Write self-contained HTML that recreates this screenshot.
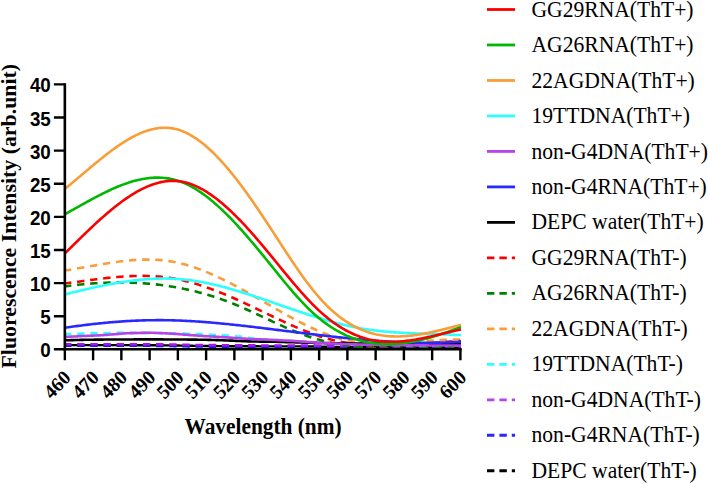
<!DOCTYPE html><html><head><meta charset="utf-8"><style>html,body{margin:0;padding:0;background:#fff;overflow:hidden;}svg{display:block;}.t{font-family:"Liberation Serif",serif;}.s{font-family:"Liberation Sans",sans-serif;}</style></head><body>
<svg width="708" height="484" viewBox="0 0 708 484">
<rect width="708" height="484" fill="#fff"/>
<g fill="none" stroke-width="2.6" stroke-linejoin="round">
<path d="M65.00,345.10 L66.99,345.10 L68.98,345.10 L70.97,345.10 L72.96,345.10 L74.95,345.10 L76.94,345.10 L78.93,345.10 L80.92,345.10 L82.91,345.10 L84.90,345.11 L86.89,345.11 L88.88,345.11 L90.87,345.11 L92.86,345.11 L94.85,345.11 L96.84,345.11 L98.83,345.12 L100.82,345.12 L102.81,345.12 L104.80,345.12 L106.79,345.12 L108.78,345.13 L110.77,345.13 L112.76,345.13 L114.75,345.13 L116.74,345.14 L118.73,345.14 L120.72,345.14 L122.71,345.15 L124.70,345.15 L126.69,345.15 L128.68,345.16 L130.67,345.16 L132.66,345.16 L134.65,345.17 L136.64,345.17 L138.63,345.18 L140.62,345.18 L142.61,345.18 L144.60,345.19 L146.59,345.19 L148.58,345.20 L150.57,345.20 L152.56,345.21 L154.55,345.22 L156.54,345.24 L158.53,345.26 L160.52,345.28 L162.51,345.30 L164.50,345.33 L166.49,345.36 L168.48,345.39 L170.47,345.42 L172.46,345.46 L174.45,345.49 L176.44,345.53 L178.43,345.56 L180.42,345.60 L182.41,345.64 L184.40,345.67 L186.39,345.71 L188.38,345.74 L190.37,345.77 L192.36,345.80 L194.35,345.83 L196.34,345.86 L198.33,345.88 L200.32,345.90 L202.31,345.92 L204.30,345.94 L206.29,345.96 L208.28,345.98 L210.27,346.00 L212.26,346.02 L214.25,346.04 L216.24,346.06 L218.23,346.08 L220.22,346.10 L222.21,346.12 L224.20,346.14 L226.19,346.15 L228.18,346.17 L230.17,346.19 L232.16,346.20 L234.15,346.22 L236.14,346.23 L238.13,346.24 L240.12,346.25 L242.11,346.27 L244.10,346.28 L246.09,346.29 L248.08,346.29 L250.07,346.30 L252.06,346.31 L254.05,346.31 L256.04,346.32 L258.03,346.32 L260.02,346.33 L262.01,346.33 L263.99,346.33 L265.98,346.34 L267.97,346.34 L269.96,346.34 L271.95,346.34 L273.94,346.35 L275.93,346.35 L277.92,346.35 L279.91,346.35 L281.90,346.36 L283.89,346.36 L285.88,346.36 L287.87,346.37 L289.86,346.37 L291.85,346.38 L293.84,346.38 L295.83,346.39 L297.82,346.39 L299.81,346.40 L301.80,346.41 L303.79,346.42 L305.78,346.44 L307.77,346.46 L309.76,346.49 L311.75,346.52 L313.74,346.55 L315.73,346.58 L317.72,346.61 L319.71,346.65 L321.70,346.68 L323.69,346.71 L325.68,346.75 L327.67,346.78 L329.66,346.81 L331.65,346.83 L333.64,346.86 L335.63,346.87 L337.62,346.89 L339.61,346.90 L341.60,346.90 L343.59,346.91 L345.58,346.92 L347.57,346.92 L349.56,346.93 L351.55,346.93 L353.54,346.94 L355.53,346.94 L357.52,346.95 L359.51,346.95 L361.50,346.96 L363.49,346.96 L365.48,346.96 L367.47,346.97 L369.46,346.97 L371.45,346.98 L373.44,346.98 L375.43,346.98 L377.42,346.98 L379.41,346.99 L381.40,346.99 L383.39,346.99 L385.38,346.99 L387.37,347.00 L389.36,347.00 L391.35,347.00 L393.34,347.00 L395.33,347.00 L397.32,347.00 L399.31,347.00 L401.30,347.00 L403.29,347.00 L405.28,347.00 L407.27,347.00 L409.26,347.00 L411.25,347.00 L413.24,347.00 L415.23,347.00 L417.22,347.00 L419.21,347.00 L421.20,347.00 L423.19,347.00 L425.18,347.00 L427.17,347.00 L429.16,347.00 L431.15,347.00 L433.14,347.00 L435.13,347.00 L437.12,347.00 L439.11,347.00 L441.10,347.00 L443.09,347.00 L445.08,347.00 L447.07,347.00 L449.06,347.00 L451.05,347.00 L453.04,347.00 L455.03,347.00 L457.02,347.00 L459.01,347.00 L461.00,347.00" stroke="#000" stroke-width="2.4"/>
<path d="M65.00,345.70 L66.99,345.70 L68.98,345.70 L70.97,345.70 L72.96,345.70 L74.95,345.70 L76.94,345.70 L78.93,345.70 L80.92,345.70 L82.91,345.70 L84.90,345.71 L86.89,345.71 L88.88,345.71 L90.87,345.71 L92.86,345.71 L94.85,345.71 L96.84,345.71 L98.83,345.72 L100.82,345.72 L102.81,345.72 L104.80,345.72 L106.79,345.72 L108.78,345.73 L110.77,345.73 L112.76,345.73 L114.75,345.73 L116.74,345.74 L118.73,345.74 L120.72,345.74 L122.71,345.75 L124.70,345.75 L126.69,345.75 L128.68,345.76 L130.67,345.76 L132.66,345.76 L134.65,345.77 L136.64,345.77 L138.63,345.78 L140.62,345.78 L142.61,345.78 L144.60,345.79 L146.59,345.79 L148.58,345.80 L150.57,345.80 L152.56,345.81 L154.55,345.82 L156.54,345.84 L158.53,345.86 L160.52,345.88 L162.51,345.90 L164.50,345.93 L166.49,345.96 L168.48,345.99 L170.47,346.02 L172.46,346.06 L174.45,346.09 L176.44,346.13 L178.43,346.16 L180.42,346.20 L182.41,346.24 L184.40,346.27 L186.39,346.31 L188.38,346.34 L190.37,346.37 L192.36,346.40 L194.35,346.43 L196.34,346.46 L198.33,346.48 L200.32,346.50 L202.31,346.52 L204.30,346.54 L206.29,346.56 L208.28,346.58 L210.27,346.60 L212.26,346.62 L214.25,346.64 L216.24,346.66 L218.23,346.68 L220.22,346.70 L222.21,346.72 L224.20,346.74 L226.19,346.75 L228.18,346.77 L230.17,346.79 L232.16,346.80 L234.15,346.82 L236.14,346.83 L238.13,346.84 L240.12,346.85 L242.11,346.87 L244.10,346.88 L246.09,346.89 L248.08,346.89 L250.07,346.90 L252.06,346.91 L254.05,346.91 L256.04,346.92 L258.03,346.92 L260.02,346.93 L262.01,346.93 L263.99,346.93 L265.98,346.94 L267.97,346.94 L269.96,346.94 L271.95,346.94 L273.94,346.95 L275.93,346.95 L277.92,346.95 L279.91,346.95 L281.90,346.96 L283.89,346.96 L285.88,346.96 L287.87,346.97 L289.86,346.97 L291.85,346.98 L293.84,346.98 L295.83,346.99 L297.82,346.99 L299.81,347.00 L301.80,347.01 L303.79,347.02 L305.78,347.04 L307.77,347.06 L309.76,347.09 L311.75,347.12 L313.74,347.15 L315.73,347.18 L317.72,347.21 L319.71,347.25 L321.70,347.28 L323.69,347.31 L325.68,347.35 L327.67,347.38 L329.66,347.41 L331.65,347.43 L333.64,347.46 L335.63,347.47 L337.62,347.49 L339.61,347.50 L341.60,347.50 L343.59,347.51 L345.58,347.52 L347.57,347.52 L349.56,347.53 L351.55,347.53 L353.54,347.54 L355.53,347.54 L357.52,347.55 L359.51,347.55 L361.50,347.56 L363.49,347.56 L365.48,347.56 L367.47,347.57 L369.46,347.57 L371.45,347.58 L373.44,347.58 L375.43,347.58 L377.42,347.58 L379.41,347.59 L381.40,347.59 L383.39,347.59 L385.38,347.59 L387.37,347.60 L389.36,347.60 L391.35,347.60 L393.34,347.60 L395.33,347.60 L397.32,347.60 L399.31,347.60 L401.30,347.60 L403.29,347.60 L405.28,347.60 L407.27,347.60 L409.26,347.60 L411.25,347.60 L413.24,347.60 L415.23,347.60 L417.22,347.60 L419.21,347.60 L421.20,347.60 L423.19,347.60 L425.18,347.60 L427.17,347.60 L429.16,347.60 L431.15,347.60 L433.14,347.60 L435.13,347.60 L437.12,347.60 L439.11,347.60 L441.10,347.60 L443.09,347.60 L445.08,347.60 L447.07,347.60 L449.06,347.60 L451.05,347.60 L453.04,347.60 L455.03,347.60 L457.02,347.60 L459.01,347.60 L461.00,347.60" stroke="#1818e8" stroke-dasharray="7.4 5.75" stroke-dashoffset="1"/>
<path d="M65.00,344.20 L66.99,344.20 L68.98,344.20 L70.97,344.20 L72.96,344.20 L74.95,344.20 L76.94,344.20 L78.93,344.20 L80.92,344.20 L82.91,344.20 L84.90,344.21 L86.89,344.21 L88.88,344.21 L90.87,344.21 L92.86,344.21 L94.85,344.21 L96.84,344.21 L98.83,344.22 L100.82,344.22 L102.81,344.22 L104.80,344.22 L106.79,344.22 L108.78,344.23 L110.77,344.23 L112.76,344.23 L114.75,344.23 L116.74,344.24 L118.73,344.24 L120.72,344.24 L122.71,344.25 L124.70,344.25 L126.69,344.25 L128.68,344.26 L130.67,344.26 L132.66,344.26 L134.65,344.27 L136.64,344.27 L138.63,344.28 L140.62,344.28 L142.61,344.28 L144.60,344.29 L146.59,344.29 L148.58,344.30 L150.57,344.30 L152.56,344.31 L154.55,344.32 L156.54,344.34 L158.53,344.36 L160.52,344.38 L162.51,344.40 L164.50,344.43 L166.49,344.46 L168.48,344.49 L170.47,344.52 L172.46,344.56 L174.45,344.59 L176.44,344.63 L178.43,344.66 L180.42,344.70 L182.41,344.74 L184.40,344.77 L186.39,344.81 L188.38,344.84 L190.37,344.87 L192.36,344.90 L194.35,344.93 L196.34,344.96 L198.33,344.98 L200.32,345.00 L202.31,345.02 L204.30,345.04 L206.29,345.06 L208.28,345.08 L210.27,345.10 L212.26,345.12 L214.25,345.14 L216.24,345.16 L218.23,345.18 L220.22,345.20 L222.21,345.22 L224.20,345.24 L226.19,345.25 L228.18,345.27 L230.17,345.29 L232.16,345.30 L234.15,345.32 L236.14,345.33 L238.13,345.34 L240.12,345.35 L242.11,345.37 L244.10,345.38 L246.09,345.39 L248.08,345.39 L250.07,345.40 L252.06,345.41 L254.05,345.41 L256.04,345.42 L258.03,345.42 L260.02,345.43 L262.01,345.43 L263.99,345.43 L265.98,345.44 L267.97,345.44 L269.96,345.44 L271.95,345.44 L273.94,345.45 L275.93,345.45 L277.92,345.45 L279.91,345.45 L281.90,345.46 L283.89,345.46 L285.88,345.46 L287.87,345.47 L289.86,345.47 L291.85,345.48 L293.84,345.48 L295.83,345.49 L297.82,345.49 L299.81,345.50 L301.80,345.51 L303.79,345.52 L305.78,345.54 L307.77,345.56 L309.76,345.59 L311.75,345.62 L313.74,345.65 L315.73,345.68 L317.72,345.71 L319.71,345.75 L321.70,345.78 L323.69,345.81 L325.68,345.85 L327.67,345.88 L329.66,345.91 L331.65,345.93 L333.64,345.96 L335.63,345.97 L337.62,345.99 L339.61,346.00 L341.60,346.00 L343.59,346.01 L345.58,346.02 L347.57,346.02 L349.56,346.03 L351.55,346.03 L353.54,346.04 L355.53,346.04 L357.52,346.05 L359.51,346.05 L361.50,346.06 L363.49,346.06 L365.48,346.06 L367.47,346.07 L369.46,346.07 L371.45,346.08 L373.44,346.08 L375.43,346.08 L377.42,346.08 L379.41,346.09 L381.40,346.09 L383.39,346.09 L385.38,346.09 L387.37,346.10 L389.36,346.10 L391.35,346.10 L393.34,346.10 L395.33,346.10 L397.32,346.10 L399.31,346.10 L401.30,346.10 L403.29,346.10 L405.28,346.10 L407.27,346.10 L409.26,346.10 L411.25,346.10 L413.24,346.10 L415.23,346.10 L417.22,346.10 L419.21,346.10 L421.20,346.10 L423.19,346.10 L425.18,346.10 L427.17,346.10 L429.16,346.10 L431.15,346.10 L433.14,346.10 L435.13,346.10 L437.12,346.10 L439.11,346.10 L441.10,346.10 L443.09,346.10 L445.08,346.10 L447.07,346.10 L449.06,346.10 L451.05,346.10 L453.04,346.10 L455.03,346.10 L457.02,346.10 L459.01,346.10 L461.00,346.10" stroke="#a818e0" stroke-dasharray="7.4 5.75" stroke-dashoffset="1"/>
<path d="M65.00,334.10 L66.99,334.04 L68.98,333.98 L70.97,333.93 L72.96,333.87 L74.95,333.81 L76.94,333.76 L78.93,333.71 L80.92,333.65 L82.91,333.60 L84.90,333.55 L86.89,333.50 L88.88,333.46 L90.87,333.41 L92.86,333.36 L94.85,333.32 L96.84,333.27 L98.83,333.23 L100.82,333.18 L102.81,333.14 L104.80,333.09 L106.79,333.05 L108.78,333.02 L110.77,332.99 L112.76,332.96 L114.75,332.94 L116.74,332.92 L118.73,332.90 L120.72,332.90 L122.71,332.90 L124.70,332.90 L126.69,332.90 L128.68,332.90 L130.67,332.90 L132.66,332.90 L134.65,332.90 L136.64,332.90 L138.63,332.90 L140.62,332.90 L142.61,332.90 L144.60,332.90 L146.59,332.90 L148.58,332.90 L150.57,332.90 L152.56,332.91 L154.55,332.93 L156.54,332.97 L158.53,333.01 L160.52,333.05 L162.51,333.11 L164.50,333.16 L166.49,333.21 L168.48,333.26 L170.47,333.31 L172.46,333.36 L174.45,333.41 L176.44,333.45 L178.43,333.50 L180.42,333.55 L182.41,333.61 L184.40,333.66 L186.39,333.71 L188.38,333.77 L190.37,333.83 L192.36,333.89 L194.35,333.96 L196.34,334.03 L198.33,334.10 L200.32,334.17 L202.31,334.26 L204.30,334.35 L206.29,334.46 L208.28,334.57 L210.27,334.68 L212.26,334.79 L214.25,334.88 L216.24,334.97 L218.23,335.05 L220.22,335.13 L222.21,335.22 L224.20,335.32 L226.19,335.44 L228.18,335.57 L230.17,335.72 L232.16,335.88 L234.15,336.06 L236.14,336.25 L238.13,336.44 L240.12,336.65 L242.11,336.89 L244.10,337.16 L246.09,337.44 L248.08,337.73 L250.07,338.02 L252.06,338.31 L254.05,338.58 L256.04,338.82 L258.03,339.03 L260.02,339.20 L262.01,339.34 L263.99,339.46 L265.98,339.56 L267.97,339.66 L269.96,339.75 L271.95,339.85 L273.94,339.94 L275.93,340.05 L277.92,340.16 L279.91,340.26 L281.90,340.37 L283.89,340.48 L285.88,340.58 L287.87,340.69 L289.86,340.80 L291.85,340.91 L293.84,341.02 L295.83,341.14 L297.82,341.26 L299.81,341.39 L301.80,341.52 L303.79,341.67 L305.78,341.83 L307.77,341.99 L309.76,342.15 L311.75,342.31 L313.74,342.47 L315.73,342.62 L317.72,342.76 L319.71,342.88 L321.70,342.99 L323.69,343.10 L325.68,343.20 L327.67,343.29 L329.66,343.38 L331.65,343.47 L333.64,343.56 L335.63,343.64 L337.62,343.72 L339.61,343.80 L341.60,343.87 L343.59,343.95 L345.58,344.02 L347.57,344.10 L349.56,344.17 L351.55,344.24 L353.54,344.31 L355.53,344.38 L357.52,344.43 L359.51,344.49 L361.50,344.54 L363.49,344.58 L365.48,344.63 L367.47,344.67 L369.46,344.71 L371.45,344.76 L373.44,344.80 L375.43,344.83 L377.42,344.87 L379.41,344.91 L381.40,344.94 L383.39,344.98 L385.38,345.01 L387.37,345.04 L389.36,345.07 L391.35,345.10 L393.34,345.12 L395.33,345.15 L397.32,345.17 L399.31,345.19 L401.30,345.21 L403.29,345.23 L405.28,345.25 L407.27,345.27 L409.26,345.29 L411.25,345.31 L413.24,345.32 L415.23,345.34 L417.22,345.35 L419.21,345.37 L421.20,345.38 L423.19,345.40 L425.18,345.41 L427.17,345.42 L429.16,345.44 L431.15,345.45 L433.14,345.46 L435.13,345.47 L437.12,345.48 L439.11,345.49 L441.10,345.51 L443.09,345.52 L445.08,345.53 L447.07,345.54 L449.06,345.55 L451.05,345.56 L453.04,345.57 L455.03,345.58 L457.02,345.58 L459.01,345.59 L461.00,345.60" stroke="#2bffff" stroke-dasharray="7.4 5.75" stroke-dashoffset="1"/>
<path d="M65.00,270.43 L66.66,270.18 L68.31,269.93 L69.97,269.67 L71.63,269.40 L73.28,269.14 L74.94,268.86 L76.60,268.58 L78.26,268.30 L79.91,268.02 L81.57,267.73 L83.23,267.45 L84.88,267.16 L86.54,266.87 L88.20,266.57 L89.85,266.28 L91.51,265.99 L93.17,265.70 L94.82,265.41 L96.48,265.13 L98.14,264.84 L99.79,264.56 L101.45,264.28 L103.11,264.00 L104.77,263.73 L106.42,263.46 L108.08,263.20 L109.74,262.94 L111.39,262.69 L113.05,262.45 L114.71,262.21 L116.36,261.98 L118.02,261.76 L119.68,261.54 L121.33,261.33 L122.99,261.14 L124.65,260.95 L126.31,260.77 L127.96,260.60 L129.62,260.45 L131.28,260.30 L132.93,260.17 L134.59,260.05 L136.25,259.94 L137.90,259.84 L139.56,259.76 L141.22,259.70 L142.87,259.64 L144.53,259.61 L146.19,259.58 L147.85,259.58 L149.50,259.59 L151.16,259.61 L152.82,259.66 L154.47,259.72 L156.13,259.80 L157.79,259.90 L159.44,260.02 L161.10,260.16 L162.76,260.31 L164.41,260.49 L166.07,260.69 L167.73,260.91 L169.38,261.16 L171.04,261.42 L172.70,261.71 L174.36,262.02 L176.01,262.36 L177.67,262.71 L179.33,263.09 L180.98,263.49 L182.64,263.90 L184.30,264.34 L185.95,264.80 L187.61,265.28 L189.27,265.78 L190.92,266.30 L192.58,266.83 L194.24,267.39 L195.90,267.96 L197.55,268.55 L199.21,269.15 L200.87,269.78 L202.52,270.41 L204.18,271.07 L205.84,271.74 L207.49,272.42 L209.15,273.12 L210.81,273.83 L212.46,274.56 L214.12,275.30 L215.78,276.06 L217.44,276.82 L219.09,277.60 L220.75,278.39 L222.41,279.19 L224.06,280.01 L225.72,280.83 L227.38,281.66 L229.03,282.51 L230.69,283.36 L232.35,284.22 L234.00,285.10 L235.66,285.98 L237.32,286.86 L238.97,287.76 L240.63,288.66 L242.29,289.57 L243.95,290.49 L245.60,291.41 L247.26,292.34 L248.92,293.27 L250.57,294.21 L252.23,295.15 L253.89,296.10 L255.54,297.05 L257.20,298.00 L258.86,298.96 L260.51,299.92 L262.17,300.88 L263.83,301.84 L265.49,302.80 L267.14,303.76 L268.80,304.73 L270.46,305.69 L272.11,306.65 L273.77,307.61 L275.43,308.57 L277.08,309.52 L278.74,310.47 L280.40,311.42 L282.05,312.36 L283.71,313.30 L285.37,314.23 L287.03,315.16 L288.68,316.08 L290.34,316.99 L292.00,317.90 L293.65,318.79 L295.31,319.68 L296.97,320.56 L298.62,321.43 L300.28,322.29 L301.94,323.14 L303.59,323.98 L305.25,324.81 L306.91,325.62 L308.56,326.42 L310.22,327.21 L311.88,327.99 L313.54,328.75 L315.19,329.49 L316.85,330.22 L318.51,330.94 L320.16,331.63 L321.82,332.32 L323.48,332.98 L325.13,333.62 L326.79,334.25 L328.45,334.86 L330.10,335.45 L331.76,336.02 L333.42,336.57 L335.08,337.09 L336.73,337.60 L338.39,338.08 L340.05,338.54 L341.70,338.98 L343.36,339.39 L345.02,339.78 L346.67,340.15 L348.33,340.50 L349.99,340.82 L351.64,341.13 L353.30,341.41 L354.96,341.67 L356.62,341.91 L358.27,342.13 L359.93,342.34 L361.59,342.52 L363.24,342.69 L364.90,342.84 L366.56,342.98 L368.21,343.10 L369.87,343.20 L371.53,343.29 L373.18,343.36 L374.84,343.42 L376.50,343.46 L378.15,343.50 L379.81,343.52 L381.47,343.52 L383.13,343.52 L384.78,343.50 L386.44,343.48 L388.10,343.44 L389.75,343.39 L391.41,343.34 L393.07,343.27 L394.72,343.20 L396.38,343.12 L398.04,343.03 L399.69,342.94 L401.35,342.84 L403.01,342.74 L404.67,342.63 L406.32,342.51 L407.98,342.39 L409.64,342.27 L411.29,342.15 L412.95,342.02 L414.61,341.89 L416.26,341.76 L417.92,341.62 L419.58,341.49 L421.23,341.36 L422.89,341.22 L424.55,341.09 L426.21,340.96 L427.86,340.83 L429.52,340.71 L431.18,340.58 L432.83,340.46 L434.49,340.35 L436.15,340.24 L437.80,340.13 L439.46,340.03 L441.12,339.93 L442.77,339.85 L444.43,339.76 L446.09,339.69 L447.74,339.62 L449.40,339.57 L451.06,339.52 L452.72,339.48 L454.37,339.45 L456.03,339.43 L457.69,339.43 L459.34,339.43 L461.00,339.45" stroke="#f99d38" stroke-dasharray="7.4 5.75" stroke-dashoffset="1"/>
<path d="M65.00,286.39 L66.66,286.17 L68.31,285.95 L69.97,285.73 L71.63,285.53 L73.28,285.33 L74.94,285.13 L76.60,284.94 L78.26,284.76 L79.91,284.58 L81.57,284.42 L83.23,284.25 L84.88,284.10 L86.54,283.95 L88.20,283.80 L89.85,283.67 L91.51,283.54 L93.17,283.42 L94.82,283.30 L96.48,283.19 L98.14,283.09 L99.79,283.00 L101.45,282.91 L103.11,282.83 L104.77,282.76 L106.42,282.69 L108.08,282.64 L109.74,282.58 L111.39,282.54 L113.05,282.51 L114.71,282.48 L116.36,282.46 L118.02,282.45 L119.68,282.44 L121.33,282.44 L122.99,282.46 L124.65,282.47 L126.31,282.50 L127.96,282.54 L129.62,282.58 L131.28,282.63 L132.93,282.69 L134.59,282.76 L136.25,282.83 L137.90,282.92 L139.56,283.01 L141.22,283.11 L142.87,283.22 L144.53,283.34 L146.19,283.47 L147.85,283.60 L149.50,283.75 L151.16,283.90 L152.82,284.06 L154.47,284.23 L156.13,284.41 L157.79,284.60 L159.44,284.80 L161.10,285.01 L162.76,285.22 L164.41,285.45 L166.07,285.68 L167.73,285.93 L169.38,286.18 L171.04,286.45 L172.70,286.72 L174.36,287.00 L176.01,287.29 L177.67,287.60 L179.33,287.91 L180.98,288.23 L182.64,288.56 L184.30,288.90 L185.95,289.25 L187.61,289.61 L189.27,289.98 L190.92,290.37 L192.58,290.76 L194.24,291.16 L195.90,291.57 L197.55,291.99 L199.21,292.43 L200.87,292.87 L202.52,293.32 L204.18,293.79 L205.84,294.26 L207.49,294.75 L209.15,295.25 L210.81,295.75 L212.46,296.27 L214.12,296.80 L215.78,297.34 L217.44,297.89 L219.09,298.45 L220.75,299.03 L222.41,299.61 L224.06,300.21 L225.72,300.82 L227.38,301.43 L229.03,302.06 L230.69,302.71 L232.35,303.36 L234.00,304.02 L235.66,304.70 L237.32,305.39 L238.97,306.09 L240.63,306.79 L242.29,307.51 L243.95,308.24 L245.60,308.98 L247.26,309.72 L248.92,310.47 L250.57,311.22 L252.23,311.99 L253.89,312.75 L255.54,313.52 L257.20,314.30 L258.86,315.07 L260.51,315.85 L262.17,316.63 L263.83,317.41 L265.49,318.20 L267.14,318.98 L268.80,319.76 L270.46,320.54 L272.11,321.31 L273.77,322.08 L275.43,322.85 L277.08,323.62 L278.74,324.38 L280.40,325.13 L282.05,325.88 L283.71,326.62 L285.37,327.35 L287.03,328.08 L288.68,328.80 L290.34,329.51 L292.00,330.20 L293.65,330.89 L295.31,331.57 L296.97,332.24 L298.62,332.89 L300.28,333.53 L301.94,334.16 L303.59,334.77 L305.25,335.37 L306.91,335.96 L308.56,336.53 L310.22,337.08 L311.88,337.62 L313.54,338.14 L315.19,338.64 L316.85,339.13 L318.51,339.61 L320.16,340.07 L321.82,340.51 L323.48,340.94 L325.13,341.36 L326.79,341.76 L328.45,342.15 L330.10,342.52 L331.76,342.89 L333.42,343.23 L335.08,343.57 L336.73,343.89 L338.39,344.20 L340.05,344.49 L341.70,344.78 L343.36,345.05 L345.02,345.31 L346.67,345.56 L348.33,345.80 L349.99,346.02 L351.64,346.24 L353.30,346.44 L354.96,346.64 L356.62,346.82 L358.27,347.00 L359.93,347.16 L361.59,347.31 L363.24,347.46 L364.90,347.59 L366.56,347.72 L368.21,347.84 L369.87,347.95 L371.53,348.05 L373.18,348.14 L374.84,348.23 L376.50,348.30 L378.15,348.37 L379.81,348.44 L381.47,348.49 L383.13,348.54 L384.78,348.58 L386.44,348.62 L388.10,348.64 L389.75,348.67 L391.41,348.69 L393.07,348.70 L394.72,348.70 L396.38,348.70 L398.04,348.70 L399.69,348.69 L401.35,348.68 L403.01,348.66 L404.67,348.64 L406.32,348.62 L407.98,348.59 L409.64,348.55 L411.29,348.52 L412.95,348.48 L414.61,348.44 L416.26,348.40 L417.92,348.35 L419.58,348.30 L421.23,348.25 L422.89,348.20 L424.55,348.15 L426.21,348.09 L427.86,348.03 L429.52,347.98 L431.18,347.92 L432.83,347.86 L434.49,347.80 L436.15,347.75 L437.80,347.69 L439.46,347.63 L441.12,347.57 L442.77,347.52 L444.43,347.46 L446.09,347.41 L447.74,347.36 L449.40,347.31 L451.06,347.26 L452.72,347.21 L454.37,347.17 L456.03,347.13 L457.69,347.09 L459.34,347.05 L461.00,347.02" stroke="#008000" stroke-dasharray="7.4 5.75" stroke-dashoffset="1"/>
<path d="M65.00,283.47 L66.66,283.26 L68.31,283.04 L69.97,282.81 L71.63,282.59 L73.28,282.37 L74.94,282.14 L76.60,281.91 L78.26,281.68 L79.91,281.46 L81.57,281.23 L83.23,281.00 L84.88,280.78 L86.54,280.55 L88.20,280.33 L89.85,280.11 L91.51,279.89 L93.17,279.68 L94.82,279.46 L96.48,279.25 L98.14,279.04 L99.79,278.84 L101.45,278.64 L103.11,278.45 L104.77,278.26 L106.42,278.07 L108.08,277.89 L109.74,277.72 L111.39,277.55 L113.05,277.39 L114.71,277.23 L116.36,277.08 L118.02,276.94 L119.68,276.80 L121.33,276.68 L122.99,276.56 L124.65,276.45 L126.31,276.35 L127.96,276.26 L129.62,276.17 L131.28,276.10 L132.93,276.04 L134.59,275.98 L136.25,275.94 L137.90,275.91 L139.56,275.89 L141.22,275.88 L142.87,275.89 L144.53,275.90 L146.19,275.93 L147.85,275.97 L149.50,276.03 L151.16,276.09 L152.82,276.17 L154.47,276.27 L156.13,276.38 L157.79,276.50 L159.44,276.64 L161.10,276.80 L162.76,276.97 L164.41,277.16 L166.07,277.36 L167.73,277.58 L169.38,277.81 L171.04,278.07 L172.70,278.34 L174.36,278.63 L176.01,278.93 L177.67,279.26 L179.33,279.60 L180.98,279.95 L182.64,280.33 L184.30,280.71 L185.95,281.12 L187.61,281.54 L189.27,281.97 L190.92,282.42 L192.58,282.88 L194.24,283.36 L195.90,283.85 L197.55,284.36 L199.21,284.87 L200.87,285.41 L202.52,285.95 L204.18,286.51 L205.84,287.07 L207.49,287.65 L209.15,288.24 L210.81,288.85 L212.46,289.46 L214.12,290.08 L215.78,290.72 L217.44,291.36 L219.09,292.02 L220.75,292.68 L222.41,293.35 L224.06,294.03 L225.72,294.72 L227.38,295.42 L229.03,296.13 L230.69,296.84 L232.35,297.56 L234.00,298.29 L235.66,299.03 L237.32,299.77 L238.97,300.51 L240.63,301.27 L242.29,302.03 L243.95,302.79 L245.60,303.56 L247.26,304.34 L248.92,305.11 L250.57,305.90 L252.23,306.68 L253.89,307.47 L255.54,308.26 L257.20,309.06 L258.86,309.85 L260.51,310.65 L262.17,311.45 L263.83,312.25 L265.49,313.05 L267.14,313.84 L268.80,314.64 L270.46,315.44 L272.11,316.23 L273.77,317.02 L275.43,317.81 L277.08,318.59 L278.74,319.38 L280.40,320.15 L282.05,320.93 L283.71,321.69 L285.37,322.46 L287.03,323.21 L288.68,323.96 L290.34,324.71 L292.00,325.44 L293.65,326.17 L295.31,326.89 L296.97,327.61 L298.62,328.31 L300.28,329.00 L301.94,329.69 L303.59,330.36 L305.25,331.02 L306.91,331.68 L308.56,332.32 L310.22,332.94 L311.88,333.56 L313.54,334.16 L315.19,334.75 L316.85,335.32 L318.51,335.88 L320.16,336.43 L321.82,336.96 L323.48,337.47 L325.13,337.97 L326.79,338.46 L328.45,338.92 L330.10,339.37 L331.76,339.80 L333.42,340.21 L335.08,340.60 L336.73,340.98 L338.39,341.33 L340.05,341.67 L341.70,342.00 L343.36,342.30 L345.02,342.59 L346.67,342.87 L348.33,343.13 L349.99,343.37 L351.64,343.60 L353.30,343.81 L354.96,344.01 L356.62,344.20 L358.27,344.37 L359.93,344.53 L361.59,344.67 L363.24,344.81 L364.90,344.93 L366.56,345.03 L368.21,345.13 L369.87,345.21 L371.53,345.28 L373.18,345.35 L374.84,345.40 L376.50,345.44 L378.15,345.47 L379.81,345.49 L381.47,345.50 L383.13,345.50 L384.78,345.49 L386.44,345.48 L388.10,345.46 L389.75,345.42 L391.41,345.39 L393.07,345.34 L394.72,345.29 L396.38,345.23 L398.04,345.16 L399.69,345.09 L401.35,345.01 L403.01,344.93 L404.67,344.84 L406.32,344.75 L407.98,344.65 L409.64,344.55 L411.29,344.44 L412.95,344.33 L414.61,344.22 L416.26,344.10 L417.92,343.99 L419.58,343.87 L421.23,343.74 L422.89,343.62 L424.55,343.49 L426.21,343.37 L427.86,343.24 L429.52,343.11 L431.18,342.99 L432.83,342.86 L434.49,342.73 L436.15,342.61 L437.80,342.48 L439.46,342.36 L441.12,342.24 L442.77,342.12 L444.43,342.00 L446.09,341.89 L447.74,341.77 L449.40,341.67 L451.06,341.56 L452.72,341.46 L454.37,341.36 L456.03,341.27 L457.69,341.18 L459.34,341.10 L461.00,341.03" stroke="#fb0000" stroke-dasharray="7.4 5.75" stroke-dashoffset="1"/>
<path d="M65.00,340.30 L66.99,340.25 L68.98,340.19 L70.97,340.14 L72.96,340.09 L74.95,340.04 L76.94,339.99 L78.93,339.94 L80.92,339.90 L82.91,339.86 L84.90,339.81 L86.89,339.77 L88.88,339.74 L90.87,339.71 L92.86,339.68 L94.85,339.65 L96.84,339.63 L98.83,339.61 L100.82,339.59 L102.81,339.58 L104.80,339.57 L106.79,339.55 L108.78,339.54 L110.77,339.53 L112.76,339.52 L114.75,339.51 L116.74,339.50 L118.73,339.49 L120.72,339.48 L122.71,339.47 L124.70,339.46 L126.69,339.45 L128.68,339.44 L130.67,339.43 L132.66,339.43 L134.65,339.42 L136.64,339.42 L138.63,339.41 L140.62,339.41 L142.61,339.41 L144.60,339.40 L146.59,339.40 L148.58,339.40 L150.57,339.40 L152.56,339.40 L154.55,339.40 L156.54,339.41 L158.53,339.41 L160.52,339.42 L162.51,339.42 L164.50,339.43 L166.49,339.44 L168.48,339.45 L170.47,339.46 L172.46,339.47 L174.45,339.48 L176.44,339.49 L178.43,339.51 L180.42,339.52 L182.41,339.54 L184.40,339.55 L186.39,339.57 L188.38,339.59 L190.37,339.60 L192.36,339.62 L194.35,339.64 L196.34,339.66 L198.33,339.68 L200.32,339.70 L202.31,339.73 L204.30,339.76 L206.29,339.81 L208.28,339.85 L210.27,339.91 L212.26,339.96 L214.25,340.03 L216.24,340.09 L218.23,340.16 L220.22,340.23 L222.21,340.30 L224.20,340.37 L226.19,340.44 L228.18,340.51 L230.17,340.58 L232.16,340.66 L234.15,340.75 L236.14,340.84 L238.13,340.94 L240.12,341.03 L242.11,341.12 L244.10,341.21 L246.09,341.28 L248.08,341.35 L250.07,341.40 L252.06,341.44 L254.05,341.48 L256.04,341.52 L258.03,341.55 L260.02,341.58 L262.01,341.60 L263.99,341.63 L265.98,341.65 L267.97,341.68 L269.96,341.71 L271.95,341.74 L273.94,341.78 L275.93,341.82 L277.92,341.86 L279.91,341.91 L281.90,341.97 L283.89,342.02 L285.88,342.08 L287.87,342.14 L289.86,342.20 L291.85,342.26 L293.84,342.32 L295.83,342.38 L297.82,342.44 L299.81,342.50 L301.80,342.55 L303.79,342.60 L305.78,342.66 L307.77,342.71 L309.76,342.77 L311.75,342.82 L313.74,342.87 L315.73,342.91 L317.72,342.96 L319.71,342.99 L321.70,343.03 L323.69,343.06 L325.68,343.09 L327.67,343.12 L329.66,343.15 L331.65,343.18 L333.64,343.21 L335.63,343.24 L337.62,343.26 L339.61,343.29 L341.60,343.31 L343.59,343.34 L345.58,343.36 L347.57,343.38 L349.56,343.40 L351.55,343.42 L353.54,343.44 L355.53,343.46 L357.52,343.48 L359.51,343.50 L361.50,343.51 L363.49,343.53 L365.48,343.55 L367.47,343.57 L369.46,343.58 L371.45,343.60 L373.44,343.62 L375.43,343.64 L377.42,343.65 L379.41,343.67 L381.40,343.69 L383.39,343.70 L385.38,343.72 L387.37,343.74 L389.36,343.75 L391.35,343.77 L393.34,343.79 L395.33,343.80 L397.32,343.82 L399.31,343.83 L401.30,343.85 L403.29,343.86 L405.28,343.87 L407.27,343.89 L409.26,343.90 L411.25,343.91 L413.24,343.92 L415.23,343.93 L417.22,343.94 L419.21,343.95 L421.20,343.96 L423.19,343.97 L425.18,343.97 L427.17,343.98 L429.16,343.99 L431.15,343.99 L433.14,343.99 L435.13,344.00 L437.12,344.00 L439.11,344.00 L441.10,344.00 L443.09,344.00 L445.08,344.00 L447.07,344.00 L449.06,344.00 L451.05,344.00 L453.04,344.00 L455.03,344.00 L457.02,344.00 L459.01,344.00 L461.00,344.00" stroke="#000"/>
<path d="M65.00,327.75 L66.66,327.50 L68.31,327.26 L69.97,327.03 L71.63,326.79 L73.28,326.56 L74.94,326.33 L76.60,326.11 L78.26,325.89 L79.91,325.67 L81.57,325.46 L83.23,325.25 L84.88,325.04 L86.54,324.84 L88.20,324.64 L89.85,324.44 L91.51,324.25 L93.17,324.06 L94.82,323.88 L96.48,323.70 L98.14,323.52 L99.79,323.35 L101.45,323.18 L103.11,323.01 L104.77,322.85 L106.42,322.70 L108.08,322.55 L109.74,322.40 L111.39,322.26 L113.05,322.12 L114.71,321.98 L116.36,321.85 L118.02,321.73 L119.68,321.60 L121.33,321.49 L122.99,321.38 L124.65,321.27 L126.31,321.17 L127.96,321.07 L129.62,320.97 L131.28,320.89 L132.93,320.80 L134.59,320.72 L136.25,320.65 L137.90,320.58 L139.56,320.52 L141.22,320.46 L142.87,320.40 L144.53,320.36 L146.19,320.31 L147.85,320.27 L149.50,320.24 L151.16,320.21 L152.82,320.19 L154.47,320.18 L156.13,320.16 L157.79,320.16 L159.44,320.16 L161.10,320.16 L162.76,320.17 L164.41,320.19 L166.07,320.21 L167.73,320.24 L169.38,320.27 L171.04,320.31 L172.70,320.35 L174.36,320.40 L176.01,320.45 L177.67,320.51 L179.33,320.57 L180.98,320.63 L182.64,320.71 L184.30,320.78 L185.95,320.86 L187.61,320.95 L189.27,321.03 L190.92,321.13 L192.58,321.22 L194.24,321.32 L195.90,321.43 L197.55,321.54 L199.21,321.65 L200.87,321.77 L202.52,321.89 L204.18,322.01 L205.84,322.14 L207.49,322.27 L209.15,322.41 L210.81,322.54 L212.46,322.68 L214.12,322.83 L215.78,322.98 L217.44,323.13 L219.09,323.28 L220.75,323.43 L222.41,323.59 L224.06,323.75 L225.72,323.92 L227.38,324.08 L229.03,324.25 L230.69,324.42 L232.35,324.60 L234.00,324.77 L235.66,324.95 L237.32,325.13 L238.97,325.31 L240.63,325.50 L242.29,325.68 L243.95,325.87 L245.60,326.06 L247.26,326.25 L248.92,326.44 L250.57,326.64 L252.23,326.83 L253.89,327.03 L255.54,327.23 L257.20,327.43 L258.86,327.63 L260.51,327.83 L262.17,328.03 L263.83,328.23 L265.49,328.44 L267.14,328.64 L268.80,328.85 L270.46,329.05 L272.11,329.26 L273.77,329.47 L275.43,329.67 L277.08,329.88 L278.74,330.09 L280.40,330.29 L282.05,330.50 L283.71,330.71 L285.37,330.92 L287.03,331.12 L288.68,331.33 L290.34,331.54 L292.00,331.74 L293.65,331.95 L295.31,332.16 L296.97,332.36 L298.62,332.57 L300.28,332.77 L301.94,332.98 L303.59,333.18 L305.25,333.38 L306.91,333.59 L308.56,333.79 L310.22,333.99 L311.88,334.19 L313.54,334.39 L315.19,334.58 L316.85,334.78 L318.51,334.98 L320.16,335.17 L321.82,335.36 L323.48,335.56 L325.13,335.75 L326.79,335.94 L328.45,336.13 L330.10,336.31 L331.76,336.50 L333.42,336.68 L335.08,336.86 L336.73,337.04 L338.39,337.22 L340.05,337.40 L341.70,337.57 L343.36,337.74 L345.02,337.91 L346.67,338.08 L348.33,338.25 L349.99,338.41 L351.64,338.58 L353.30,338.74 L354.96,338.89 L356.62,339.05 L358.27,339.20 L359.93,339.35 L361.59,339.50 L363.24,339.65 L364.90,339.79 L366.56,339.93 L368.21,340.07 L369.87,340.20 L371.53,340.34 L373.18,340.46 L374.84,340.59 L376.50,340.71 L378.15,340.83 L379.81,340.95 L381.47,341.06 L383.13,341.18 L384.78,341.28 L386.44,341.39 L388.10,341.49 L389.75,341.58 L391.41,341.68 L393.07,341.77 L394.72,341.86 L396.38,341.94 L398.04,342.02 L399.69,342.09 L401.35,342.17 L403.01,342.23 L404.67,342.30 L406.32,342.36 L407.98,342.41 L409.64,342.47 L411.29,342.51 L412.95,342.56 L414.61,342.60 L416.26,342.63 L417.92,342.66 L419.58,342.69 L421.23,342.71 L422.89,342.73 L424.55,342.74 L426.21,342.75 L427.86,342.75 L429.52,342.75 L431.18,342.75 L432.83,342.74 L434.49,342.72 L436.15,342.70 L437.80,342.68 L439.46,342.65 L441.12,342.61 L442.77,342.57 L444.43,342.52 L446.09,342.47 L447.74,342.42 L449.40,342.35 L451.06,342.29 L452.72,342.21 L454.37,342.14 L456.03,342.05 L457.69,341.96 L459.34,341.87 L461.00,341.77" stroke="#2828ff"/>
<path d="M65.00,337.00 L66.99,336.89 L68.98,336.78 L70.97,336.67 L72.96,336.56 L74.95,336.46 L76.94,336.35 L78.93,336.25 L80.92,336.16 L82.91,336.06 L84.90,335.98 L86.89,335.90 L88.88,335.81 L90.87,335.73 L92.86,335.65 L94.85,335.56 L96.84,335.47 L98.83,335.36 L100.82,335.25 L102.81,335.13 L104.80,334.99 L106.79,334.84 L108.78,334.69 L110.77,334.54 L112.76,334.39 L114.75,334.24 L116.74,334.08 L118.73,333.91 L120.72,333.74 L122.71,333.57 L124.70,333.42 L126.69,333.30 L128.68,333.21 L130.67,333.15 L132.66,333.09 L134.65,333.03 L136.64,332.98 L138.63,332.94 L140.62,332.90 L142.61,332.86 L144.60,332.83 L146.59,332.81 L148.58,332.80 L150.57,332.80 L152.56,332.82 L154.55,332.86 L156.54,332.93 L158.53,333.01 L160.52,333.10 L162.51,333.20 L164.50,333.30 L166.49,333.41 L168.48,333.52 L170.47,333.62 L172.46,333.73 L174.45,333.86 L176.44,333.99 L178.43,334.13 L180.42,334.28 L182.41,334.43 L184.40,334.59 L186.39,334.75 L188.38,334.92 L190.37,335.08 L192.36,335.24 L194.35,335.39 L196.34,335.54 L198.33,335.69 L200.32,335.82 L202.31,335.95 L204.30,336.08 L206.29,336.20 L208.28,336.32 L210.27,336.44 L212.26,336.55 L214.25,336.67 L216.24,336.79 L218.23,336.90 L220.22,337.02 L222.21,337.14 L224.20,337.26 L226.19,337.38 L228.18,337.51 L230.17,337.64 L232.16,337.78 L234.15,337.93 L236.14,338.08 L238.13,338.22 L240.12,338.37 L242.11,338.51 L244.10,338.65 L246.09,338.78 L248.08,338.90 L250.07,339.00 L252.06,339.10 L254.05,339.19 L256.04,339.27 L258.03,339.35 L260.02,339.42 L262.01,339.49 L263.99,339.57 L265.98,339.64 L267.97,339.71 L269.96,339.79 L271.95,339.87 L273.94,339.95 L275.93,340.04 L277.92,340.14 L279.91,340.24 L281.90,340.34 L283.89,340.45 L285.88,340.55 L287.87,340.67 L289.86,340.78 L291.85,340.90 L293.84,341.01 L295.83,341.14 L297.82,341.26 L299.81,341.39 L301.80,341.52 L303.79,341.67 L305.78,341.83 L307.77,341.99 L309.76,342.15 L311.75,342.31 L313.74,342.47 L315.73,342.62 L317.72,342.76 L319.71,342.88 L321.70,342.99 L323.69,343.10 L325.68,343.20 L327.67,343.29 L329.66,343.38 L331.65,343.47 L333.64,343.56 L335.63,343.64 L337.62,343.72 L339.61,343.80 L341.60,343.87 L343.59,343.95 L345.58,344.02 L347.57,344.10 L349.56,344.17 L351.55,344.24 L353.54,344.31 L355.53,344.38 L357.52,344.43 L359.51,344.49 L361.50,344.54 L363.49,344.58 L365.48,344.63 L367.47,344.67 L369.46,344.71 L371.45,344.76 L373.44,344.80 L375.43,344.83 L377.42,344.87 L379.41,344.91 L381.40,344.94 L383.39,344.98 L385.38,345.01 L387.37,345.04 L389.36,345.07 L391.35,345.10 L393.34,345.12 L395.33,345.15 L397.32,345.17 L399.31,345.19 L401.30,345.21 L403.29,345.23 L405.28,345.25 L407.27,345.27 L409.26,345.29 L411.25,345.31 L413.24,345.32 L415.23,345.34 L417.22,345.35 L419.21,345.37 L421.20,345.38 L423.19,345.40 L425.18,345.41 L427.17,345.42 L429.16,345.44 L431.15,345.45 L433.14,345.46 L435.13,345.47 L437.12,345.48 L439.11,345.49 L441.10,345.51 L443.09,345.52 L445.08,345.53 L447.07,345.54 L449.06,345.55 L451.05,345.56 L453.04,345.57 L455.03,345.58 L457.02,345.58 L459.01,345.59 L461.00,345.60" stroke="#b844e8"/>
<path d="M65.00,294.36 L66.66,293.95 L68.31,293.54 L69.97,293.13 L71.63,292.73 L73.28,292.32 L74.94,291.92 L76.60,291.52 L78.26,291.12 L79.91,290.73 L81.57,290.33 L83.23,289.94 L84.88,289.56 L86.54,289.17 L88.20,288.79 L89.85,288.42 L91.51,288.05 L93.17,287.68 L94.82,287.31 L96.48,286.95 L98.14,286.60 L99.79,286.25 L101.45,285.91 L103.11,285.57 L104.77,285.23 L106.42,284.91 L108.08,284.58 L109.74,284.27 L111.39,283.96 L113.05,283.66 L114.71,283.36 L116.36,283.07 L118.02,282.79 L119.68,282.51 L121.33,282.25 L122.99,281.99 L124.65,281.73 L126.31,281.49 L127.96,281.25 L129.62,281.03 L131.28,280.81 L132.93,280.60 L134.59,280.40 L136.25,280.21 L137.90,280.02 L139.56,279.85 L141.22,279.69 L142.87,279.54 L144.53,279.39 L146.19,279.26 L147.85,279.14 L149.50,279.03 L151.16,278.93 L152.82,278.84 L154.47,278.77 L156.13,278.70 L157.79,278.65 L159.44,278.61 L161.10,278.58 L162.76,278.56 L164.41,278.55 L166.07,278.56 L167.73,278.58 L169.38,278.62 L171.04,278.67 L172.70,278.73 L174.36,278.80 L176.01,278.89 L177.67,279.00 L179.33,279.12 L180.98,279.25 L182.64,279.40 L184.30,279.56 L185.95,279.73 L187.61,279.92 L189.27,280.13 L190.92,280.34 L192.58,280.57 L194.24,280.82 L195.90,281.07 L197.55,281.34 L199.21,281.62 L200.87,281.92 L202.52,282.22 L204.18,282.54 L205.84,282.86 L207.49,283.20 L209.15,283.55 L210.81,283.91 L212.46,284.28 L214.12,284.66 L215.78,285.05 L217.44,285.45 L219.09,285.86 L220.75,286.27 L222.41,286.70 L224.06,287.13 L225.72,287.58 L227.38,288.03 L229.03,288.49 L230.69,288.95 L232.35,289.42 L234.00,289.90 L235.66,290.39 L237.32,290.88 L238.97,291.38 L240.63,291.89 L242.29,292.40 L243.95,292.92 L245.60,293.44 L247.26,293.96 L248.92,294.50 L250.57,295.03 L252.23,295.57 L253.89,296.12 L255.54,296.66 L257.20,297.21 L258.86,297.77 L260.51,298.32 L262.17,298.88 L263.83,299.45 L265.49,300.01 L267.14,300.58 L268.80,301.15 L270.46,301.72 L272.11,302.29 L273.77,302.86 L275.43,303.43 L277.08,304.00 L278.74,304.58 L280.40,305.15 L282.05,305.72 L283.71,306.30 L285.37,306.87 L287.03,307.44 L288.68,308.01 L290.34,308.58 L292.00,309.15 L293.65,309.71 L295.31,310.28 L296.97,310.84 L298.62,311.40 L300.28,311.95 L301.94,312.50 L303.59,313.05 L305.25,313.60 L306.91,314.14 L308.56,314.68 L310.22,315.22 L311.88,315.75 L313.54,316.27 L315.19,316.79 L316.85,317.31 L318.51,317.82 L320.16,318.32 L321.82,318.82 L323.48,319.32 L325.13,319.80 L326.79,320.28 L328.45,320.76 L330.10,321.23 L331.76,321.68 L333.42,322.14 L335.08,322.58 L336.73,323.02 L338.39,323.45 L340.05,323.87 L341.70,324.28 L343.36,324.68 L345.02,325.08 L346.67,325.46 L348.33,325.84 L349.99,326.20 L351.64,326.56 L353.30,326.90 L354.96,327.24 L356.62,327.56 L358.27,327.87 L359.93,328.18 L361.59,328.47 L363.24,328.75 L364.90,329.02 L366.56,329.28 L368.21,329.52 L369.87,329.76 L371.53,329.99 L373.18,330.21 L374.84,330.42 L376.50,330.63 L378.15,330.82 L379.81,331.01 L381.47,331.18 L383.13,331.35 L384.78,331.51 L386.44,331.67 L388.10,331.82 L389.75,331.96 L391.41,332.09 L393.07,332.22 L394.72,332.34 L396.38,332.46 L398.04,332.57 L399.69,332.67 L401.35,332.77 L403.01,332.87 L404.67,332.96 L406.32,333.04 L407.98,333.13 L409.64,333.20 L411.29,333.28 L412.95,333.35 L414.61,333.42 L416.26,333.49 L417.92,333.55 L419.58,333.61 L421.23,333.67 L422.89,333.73 L424.55,333.78 L426.21,333.84 L427.86,333.89 L429.52,333.95 L431.18,334.00 L432.83,334.05 L434.49,334.10 L436.15,334.16 L437.80,334.21 L439.46,334.26 L441.12,334.32 L442.77,334.37 L444.43,334.43 L446.09,334.49 L447.74,334.55 L449.40,334.62 L451.06,334.68 L452.72,334.75 L454.37,334.83 L456.03,334.90 L457.69,334.98 L459.34,335.06 L461.00,335.15" stroke="#2bffff"/>
<path d="M65.00,188.74 L66.66,187.40 L68.31,186.05 L69.97,184.69 L71.63,183.32 L73.28,181.95 L74.94,180.57 L76.60,179.18 L78.26,177.78 L79.91,176.39 L81.57,174.99 L83.23,173.59 L84.88,172.19 L86.54,170.80 L88.20,169.40 L89.85,168.01 L91.51,166.62 L93.17,165.24 L94.82,163.87 L96.48,162.50 L98.14,161.15 L99.79,159.80 L101.45,158.47 L103.11,157.15 L104.77,155.84 L106.42,154.55 L108.08,153.27 L109.74,152.01 L111.39,150.77 L113.05,149.55 L114.71,148.35 L116.36,147.17 L118.02,146.02 L119.68,144.89 L121.33,143.78 L122.99,142.70 L124.65,141.65 L126.31,140.63 L127.96,139.64 L129.62,138.68 L131.28,137.75 L132.93,136.86 L134.59,136.00 L136.25,135.17 L137.90,134.38 L139.56,133.64 L141.22,132.92 L142.87,132.25 L144.53,131.63 L146.19,131.04 L147.85,130.50 L149.50,130.00 L151.16,129.55 L152.82,129.15 L154.47,128.79 L156.13,128.49 L157.79,128.23 L159.44,128.03 L161.10,127.88 L162.76,127.78 L164.41,127.74 L166.07,127.76 L167.73,127.83 L169.38,127.96 L171.04,128.15 L172.70,128.40 L174.36,128.72 L176.01,129.10 L177.67,129.54 L179.33,130.05 L180.98,130.61 L182.64,131.24 L184.30,131.93 L185.95,132.69 L187.61,133.49 L189.27,134.36 L190.92,135.29 L192.58,136.27 L194.24,137.30 L195.90,138.39 L197.55,139.53 L199.21,140.73 L200.87,141.97 L202.52,143.27 L204.18,144.61 L205.84,146.01 L207.49,147.45 L209.15,148.94 L210.81,150.47 L212.46,152.05 L214.12,153.67 L215.78,155.33 L217.44,157.04 L219.09,158.79 L220.75,160.57 L222.41,162.40 L224.06,164.26 L225.72,166.16 L227.38,168.10 L229.03,170.07 L230.69,172.08 L232.35,174.12 L234.00,176.19 L235.66,178.30 L237.32,180.43 L238.97,182.60 L240.63,184.79 L242.29,187.01 L243.95,189.26 L245.60,191.53 L247.26,193.83 L248.92,196.15 L250.57,198.49 L252.23,200.86 L253.89,203.25 L255.54,205.66 L257.20,208.08 L258.86,210.53 L260.51,212.99 L262.17,215.47 L263.83,217.96 L265.49,220.47 L267.14,222.99 L268.80,225.52 L270.46,228.06 L272.11,230.61 L273.77,233.16 L275.43,235.72 L277.08,238.28 L278.74,240.83 L280.40,243.38 L282.05,245.93 L283.71,248.47 L285.37,251.00 L287.03,253.52 L288.68,256.02 L290.34,258.52 L292.00,260.99 L293.65,263.45 L295.31,265.88 L296.97,268.30 L298.62,270.68 L300.28,273.04 L301.94,275.38 L303.59,277.68 L305.25,279.95 L306.91,282.18 L308.56,284.38 L310.22,286.54 L311.88,288.66 L313.54,290.74 L315.19,292.77 L316.85,294.75 L318.51,296.69 L320.16,298.58 L321.82,300.41 L323.48,302.19 L325.13,303.92 L326.79,305.60 L328.45,307.22 L330.10,308.80 L331.76,310.32 L333.42,311.79 L335.08,313.22 L336.73,314.59 L338.39,315.92 L340.05,317.19 L341.70,318.43 L343.36,319.61 L345.02,320.75 L346.67,321.84 L348.33,322.89 L349.99,323.89 L351.64,324.85 L353.30,325.77 L354.96,326.65 L356.62,327.48 L358.27,328.27 L359.93,329.02 L361.59,329.73 L363.24,330.40 L364.90,331.03 L366.56,331.62 L368.21,332.17 L369.87,332.69 L371.53,333.17 L373.18,333.62 L374.84,334.03 L376.50,334.40 L378.15,334.74 L379.81,335.05 L381.47,335.33 L383.13,335.57 L384.78,335.79 L386.44,335.97 L388.10,336.13 L389.75,336.25 L391.41,336.35 L393.07,336.42 L394.72,336.47 L396.38,336.49 L398.04,336.48 L399.69,336.45 L401.35,336.40 L403.01,336.32 L404.67,336.23 L406.32,336.11 L407.98,335.97 L409.64,335.81 L411.29,335.63 L412.95,335.43 L414.61,335.21 L416.26,334.98 L417.92,334.73 L419.58,334.47 L421.23,334.19 L422.89,333.90 L424.55,333.59 L426.21,333.27 L427.86,332.94 L429.52,332.59 L431.18,332.24 L432.83,331.88 L434.49,331.51 L436.15,331.12 L437.80,330.74 L439.46,330.34 L441.12,329.94 L442.77,329.53 L444.43,329.12 L446.09,328.70 L447.74,328.29 L449.40,327.86 L451.06,327.44 L452.72,327.01 L454.37,326.59 L456.03,326.16 L457.69,325.74 L459.34,325.32 L461.00,324.90" stroke="#f99d38"/>
<path d="M65.00,214.18 L66.66,213.26 L68.31,212.34 L69.97,211.42 L71.63,210.49 L73.28,209.56 L74.94,208.63 L76.60,207.70 L78.26,206.77 L79.91,205.84 L81.57,204.91 L83.23,203.99 L84.88,203.07 L86.54,202.15 L88.20,201.24 L89.85,200.34 L91.51,199.44 L93.17,198.55 L94.82,197.66 L96.48,196.79 L98.14,195.92 L99.79,195.07 L101.45,194.22 L103.11,193.39 L104.77,192.57 L106.42,191.77 L108.08,190.97 L109.74,190.20 L111.39,189.44 L113.05,188.69 L114.71,187.97 L116.36,187.26 L118.02,186.57 L119.68,185.89 L121.33,185.24 L122.99,184.61 L124.65,184.01 L126.31,183.42 L127.96,182.86 L129.62,182.32 L131.28,181.81 L132.93,181.32 L134.59,180.86 L136.25,180.43 L137.90,180.02 L139.56,179.65 L141.22,179.30 L142.87,178.98 L144.53,178.70 L146.19,178.44 L147.85,178.22 L149.50,178.03 L151.16,177.88 L152.82,177.76 L154.47,177.67 L156.13,177.63 L157.79,177.62 L159.44,177.64 L161.10,177.71 L162.76,177.81 L164.41,177.96 L166.07,178.15 L167.73,178.38 L169.38,178.65 L171.04,178.96 L172.70,179.32 L174.36,179.72 L176.01,180.17 L177.67,180.66 L179.33,181.21 L180.98,181.80 L182.64,182.43 L184.30,183.12 L185.95,183.85 L187.61,184.63 L189.27,185.46 L190.92,186.32 L192.58,187.24 L194.24,188.19 L195.90,189.19 L197.55,190.23 L199.21,191.31 L200.87,192.43 L202.52,193.59 L204.18,194.78 L205.84,196.02 L207.49,197.29 L209.15,198.59 L210.81,199.93 L212.46,201.31 L214.12,202.72 L215.78,204.16 L217.44,205.63 L219.09,207.13 L220.75,208.67 L222.41,210.23 L224.06,211.82 L225.72,213.44 L227.38,215.08 L229.03,216.76 L230.69,218.45 L232.35,220.17 L234.00,221.92 L235.66,223.68 L237.32,225.47 L238.97,227.28 L240.63,229.11 L242.29,230.96 L243.95,232.83 L245.60,234.72 L247.26,236.62 L248.92,238.54 L250.57,240.48 L252.23,242.43 L253.89,244.39 L255.54,246.37 L257.20,248.36 L258.86,250.36 L260.51,252.37 L262.17,254.40 L263.83,256.43 L265.49,258.47 L267.14,260.51 L268.80,262.56 L270.46,264.62 L272.11,266.68 L273.77,268.74 L275.43,270.79 L277.08,272.85 L278.74,274.89 L280.40,276.93 L282.05,278.97 L283.71,280.99 L285.37,283.00 L287.03,284.99 L288.68,286.97 L290.34,288.93 L292.00,290.87 L293.65,292.78 L295.31,294.68 L296.97,296.55 L298.62,298.39 L300.28,300.20 L301.94,301.98 L303.59,303.73 L305.25,305.44 L306.91,307.12 L308.56,308.76 L310.22,310.36 L311.88,311.92 L313.54,313.43 L315.19,314.91 L316.85,316.34 L318.51,317.74 L320.16,319.09 L321.82,320.40 L323.48,321.68 L325.13,322.92 L326.79,324.11 L328.45,325.27 L330.10,326.39 L331.76,327.47 L333.42,328.52 L335.08,329.53 L336.73,330.50 L338.39,331.43 L340.05,332.33 L341.70,333.19 L343.36,334.02 L345.02,334.81 L346.67,335.57 L348.33,336.29 L349.99,336.98 L351.64,337.63 L353.30,338.25 L354.96,338.84 L356.62,339.40 L358.27,339.92 L359.93,340.41 L361.59,340.87 L363.24,341.29 L364.90,341.69 L366.56,342.05 L368.21,342.39 L369.87,342.69 L371.53,342.97 L373.18,343.21 L374.84,343.43 L376.50,343.62 L378.15,343.78 L379.81,343.92 L381.47,344.03 L383.13,344.11 L384.78,344.17 L386.44,344.20 L388.10,344.21 L389.75,344.19 L391.41,344.15 L393.07,344.09 L394.72,344.00 L396.38,343.89 L398.04,343.76 L399.69,343.61 L401.35,343.44 L403.01,343.24 L404.67,343.03 L406.32,342.79 L407.98,342.54 L409.64,342.27 L411.29,341.98 L412.95,341.67 L414.61,341.34 L416.26,341.00 L417.92,340.64 L419.58,340.27 L421.23,339.88 L422.89,339.47 L424.55,339.05 L426.21,338.61 L427.86,338.17 L429.52,337.70 L431.18,337.23 L432.83,336.74 L434.49,336.24 L436.15,335.73 L437.80,335.21 L439.46,334.67 L441.12,334.13 L442.77,333.58 L444.43,333.02 L446.09,332.45 L447.74,331.87 L449.40,331.28 L451.06,330.69 L452.72,330.08 L454.37,329.48 L456.03,328.86 L457.69,328.24 L459.34,327.62 L461.00,326.99" stroke="#00b800"/>
<path d="M65.00,253.26 L66.66,251.63 L68.31,249.99 L69.97,248.36 L71.63,246.73 L73.28,245.10 L74.94,243.47 L76.60,241.84 L78.26,240.22 L79.91,238.60 L81.57,236.98 L83.23,235.38 L84.88,233.77 L86.54,232.18 L88.20,230.60 L89.85,229.02 L91.51,227.46 L93.17,225.90 L94.82,224.36 L96.48,222.83 L98.14,221.31 L99.79,219.81 L101.45,218.33 L103.11,216.86 L104.77,215.40 L106.42,213.97 L108.08,212.55 L109.74,211.15 L111.39,209.78 L113.05,208.42 L114.71,207.09 L116.36,205.78 L118.02,204.49 L119.68,203.23 L121.33,201.99 L122.99,200.78 L124.65,199.60 L126.31,198.44 L127.96,197.31 L129.62,196.22 L131.28,195.15 L132.93,194.12 L134.59,193.11 L136.25,192.14 L137.90,191.21 L139.56,190.30 L141.22,189.44 L142.87,188.61 L144.53,187.82 L146.19,187.06 L147.85,186.35 L149.50,185.67 L151.16,185.04 L152.82,184.44 L154.47,183.89 L156.13,183.38 L157.79,182.92 L159.44,182.50 L161.10,182.13 L162.76,181.80 L164.41,181.52 L166.07,181.29 L167.73,181.11 L169.38,180.98 L171.04,180.89 L172.70,180.86 L174.36,180.89 L176.01,180.96 L177.67,181.09 L179.33,181.28 L180.98,181.52 L182.64,181.82 L184.30,182.17 L185.95,182.58 L187.61,183.04 L189.27,183.55 L190.92,184.12 L192.58,184.74 L194.24,185.41 L195.90,186.13 L197.55,186.89 L199.21,187.71 L200.87,188.57 L202.52,189.48 L204.18,190.43 L205.84,191.42 L207.49,192.46 L209.15,193.55 L210.81,194.67 L212.46,195.83 L214.12,197.04 L215.78,198.28 L217.44,199.56 L219.09,200.88 L220.75,202.23 L222.41,203.62 L224.06,205.04 L225.72,206.50 L227.38,207.98 L229.03,209.50 L230.69,211.06 L232.35,212.64 L234.00,214.24 L235.66,215.88 L237.32,217.55 L238.97,219.24 L240.63,220.95 L242.29,222.69 L243.95,224.46 L245.60,226.24 L247.26,228.05 L248.92,229.88 L250.57,231.73 L252.23,233.60 L253.89,235.48 L255.54,237.38 L257.20,239.30 L258.86,241.24 L260.51,243.19 L262.17,245.15 L263.83,247.13 L265.49,249.11 L267.14,251.11 L268.80,253.12 L270.46,255.14 L272.11,257.16 L273.77,259.18 L275.43,261.21 L277.08,263.25 L278.74,265.28 L280.40,267.31 L282.05,269.34 L283.71,271.36 L285.37,273.38 L287.03,275.39 L288.68,277.39 L290.34,279.38 L292.00,281.36 L293.65,283.32 L295.31,285.27 L296.97,287.20 L298.62,289.11 L300.28,291.01 L301.94,292.88 L303.59,294.73 L305.25,296.55 L306.91,298.35 L308.56,300.12 L310.22,301.86 L311.88,303.57 L313.54,305.25 L315.19,306.89 L316.85,308.50 L318.51,310.07 L320.16,311.60 L321.82,313.10 L323.48,314.55 L325.13,315.96 L326.79,317.34 L328.45,318.67 L330.10,319.96 L331.76,321.22 L333.42,322.43 L335.08,323.61 L336.73,324.75 L338.39,325.84 L340.05,326.90 L341.70,327.93 L343.36,328.91 L345.02,329.85 L346.67,330.76 L348.33,331.63 L349.99,332.46 L351.64,333.25 L353.30,334.01 L354.96,334.73 L356.62,335.41 L358.27,336.06 L359.93,336.66 L361.59,337.23 L363.24,337.77 L364.90,338.27 L366.56,338.73 L368.21,339.16 L369.87,339.55 L371.53,339.90 L373.18,340.23 L374.84,340.52 L376.50,340.78 L378.15,341.01 L379.81,341.20 L381.47,341.37 L383.13,341.51 L384.78,341.62 L386.44,341.71 L388.10,341.76 L389.75,341.80 L391.41,341.80 L393.07,341.78 L394.72,341.74 L396.38,341.68 L398.04,341.59 L399.69,341.49 L401.35,341.36 L403.01,341.21 L404.67,341.04 L406.32,340.86 L407.98,340.66 L409.64,340.44 L411.29,340.20 L412.95,339.95 L414.61,339.69 L416.26,339.41 L417.92,339.12 L419.58,338.81 L421.23,338.50 L422.89,338.17 L424.55,337.84 L426.21,337.49 L427.86,337.14 L429.52,336.78 L431.18,336.41 L432.83,336.04 L434.49,335.66 L436.15,335.28 L437.80,334.89 L439.46,334.50 L441.12,334.10 L442.77,333.71 L444.43,333.31 L446.09,332.92 L447.74,332.52 L449.40,332.13 L451.06,331.74 L452.72,331.35 L454.37,330.97 L456.03,330.59 L457.69,330.21 L459.34,329.84 L461.00,329.48" stroke="#fb0000"/>
</g>
<path d="M64.85,83.2 V350.6" stroke="#000" stroke-width="2.6" fill="none"/>
<path d="M63.6,349.3 H461.7" stroke="#000" stroke-width="2.6" fill="none"/>
<path d="M53.9,349.30 H64.85 M53.9,316.19 H64.85 M53.9,283.08 H64.85 M53.9,249.96 H64.85 M53.9,216.85 H64.85 M53.9,183.74 H64.85 M53.9,150.63 H64.85 M53.9,117.51 H64.85 M53.9,84.40 H64.85 M64.85,349.3 V360.2 M93.10,349.3 V360.2 M121.36,349.3 V360.2 M149.61,349.3 V360.2 M177.87,349.3 V360.2 M206.12,349.3 V360.2 M234.37,349.3 V360.2 M262.63,349.3 V360.2 M290.88,349.3 V360.2 M319.14,349.3 V360.2 M347.39,349.3 V360.2 M375.64,349.3 V360.2 M403.90,349.3 V360.2 M432.15,349.3 V360.2 M460.41,349.3 V360.2" stroke="#000" stroke-width="2.4" fill="none"/>
<text class="s" transform="translate(50.8,357.32) scale(1,1.045)" font-size="18.8" font-weight="bold" text-anchor="end">0</text>
<text class="s" transform="translate(50.8,324.21) scale(1,1.045)" font-size="18.8" font-weight="bold" text-anchor="end">5</text>
<text class="s" transform="translate(50.8,291.10) scale(1,1.045)" font-size="18.8" font-weight="bold" text-anchor="end">10</text>
<text class="s" transform="translate(50.8,257.99) scale(1,1.045)" font-size="18.8" font-weight="bold" text-anchor="end">15</text>
<text class="s" transform="translate(50.8,224.87) scale(1,1.045)" font-size="18.8" font-weight="bold" text-anchor="end">20</text>
<text class="s" transform="translate(50.8,191.76) scale(1,1.045)" font-size="18.8" font-weight="bold" text-anchor="end">25</text>
<text class="s" transform="translate(50.8,158.65) scale(1,1.045)" font-size="18.8" font-weight="bold" text-anchor="end">30</text>
<text class="s" transform="translate(50.8,125.54) scale(1,1.045)" font-size="18.8" font-weight="bold" text-anchor="end">35</text>
<text class="s" transform="translate(50.8,92.42) scale(1,1.045)" font-size="18.8" font-weight="bold" text-anchor="end">40</text>
<text class="t" transform="translate(71.85,378.7) scale(1,1.045) rotate(-45)" font-size="19.2" font-weight="bold" text-anchor="end">460</text>
<text class="t" transform="translate(100.10,378.7) scale(1,1.045) rotate(-45)" font-size="19.2" font-weight="bold" text-anchor="end">470</text>
<text class="t" transform="translate(128.36,378.7) scale(1,1.045) rotate(-45)" font-size="19.2" font-weight="bold" text-anchor="end">480</text>
<text class="t" transform="translate(156.61,378.7) scale(1,1.045) rotate(-45)" font-size="19.2" font-weight="bold" text-anchor="end">490</text>
<text class="t" transform="translate(184.87,378.7) scale(1,1.045) rotate(-45)" font-size="19.2" font-weight="bold" text-anchor="end">500</text>
<text class="t" transform="translate(213.12,378.7) scale(1,1.045) rotate(-45)" font-size="19.2" font-weight="bold" text-anchor="end">510</text>
<text class="t" transform="translate(241.37,378.7) scale(1,1.045) rotate(-45)" font-size="19.2" font-weight="bold" text-anchor="end">520</text>
<text class="t" transform="translate(269.63,378.7) scale(1,1.045) rotate(-45)" font-size="19.2" font-weight="bold" text-anchor="end">530</text>
<text class="t" transform="translate(297.88,378.7) scale(1,1.045) rotate(-45)" font-size="19.2" font-weight="bold" text-anchor="end">540</text>
<text class="t" transform="translate(326.14,378.7) scale(1,1.045) rotate(-45)" font-size="19.2" font-weight="bold" text-anchor="end">550</text>
<text class="t" transform="translate(354.39,378.7) scale(1,1.045) rotate(-45)" font-size="19.2" font-weight="bold" text-anchor="end">560</text>
<text class="t" transform="translate(382.64,378.7) scale(1,1.045) rotate(-45)" font-size="19.2" font-weight="bold" text-anchor="end">570</text>
<text class="t" transform="translate(410.90,378.7) scale(1,1.045) rotate(-45)" font-size="19.2" font-weight="bold" text-anchor="end">580</text>
<text class="t" transform="translate(439.15,378.7) scale(1,1.045) rotate(-45)" font-size="19.2" font-weight="bold" text-anchor="end">590</text>
<text class="t" transform="translate(467.41,378.7) scale(1,1.045) rotate(-45)" font-size="19.2" font-weight="bold" text-anchor="end">600</text>
<text class="t" transform="translate(184.5,433.5) scale(1,1.045)" font-size="21.35" font-weight="bold">Wavelength (nm)</text>
<text class="t" transform="translate(16,368.5) scale(1,1.05) rotate(-90)" font-size="20.8" font-weight="bold">Fluorescence Intensity (arb.unit)</text>
<path d="M487,9.50 H515" stroke="#fb0000" stroke-width="2.8"/>
<text class="t" transform="translate(531.5,16.60) scale(1,1.045)" font-size="21.6">GG29RNA(ThT+)</text>
<path d="M487,44.98 H515" stroke="#00b800" stroke-width="2.8"/>
<text class="t" transform="translate(531.5,52.08) scale(1,1.045)" font-size="21.6">AG26RNA(ThT+)</text>
<path d="M487,80.46 H515" stroke="#f99d38" stroke-width="2.8"/>
<text class="t" transform="translate(531.5,87.56) scale(1,1.045)" font-size="21.6">22AGDNA(ThT+)</text>
<path d="M487,115.94 H515" stroke="#2bffff" stroke-width="2.8"/>
<text class="t" transform="translate(531.5,123.04) scale(1,1.045)" font-size="21.6">19TTDNA(ThT+)</text>
<path d="M487,151.42 H515" stroke="#b844e8" stroke-width="2.8"/>
<text class="t" transform="translate(531.5,158.52) scale(1,1.045)" font-size="21.6">non-G4DNA(ThT+)</text>
<path d="M487,186.90 H515" stroke="#2828ff" stroke-width="2.8"/>
<text class="t" transform="translate(531.5,194.00) scale(1,1.045)" font-size="21.6">non-G4RNA(ThT+)</text>
<path d="M487,222.38 H515" stroke="#000" stroke-width="2.8"/>
<text class="t" transform="translate(531.5,229.48) scale(1,1.045)" font-size="21.6">DEPC water(ThT+)</text>
<path d="M487,257.86 H515" stroke="#fb0000" stroke-width="2.8" stroke-dasharray="7.4 5"/>
<text class="t" transform="translate(531.5,264.96) scale(1,1.045)" font-size="21.6">GG29RNA(ThT-)</text>
<path d="M487,293.34 H515" stroke="#008000" stroke-width="2.8" stroke-dasharray="7.4 5"/>
<text class="t" transform="translate(531.5,300.44) scale(1,1.045)" font-size="21.6">AG26RNA(ThT-)</text>
<path d="M487,328.82 H515" stroke="#f99d38" stroke-width="2.8" stroke-dasharray="7.4 5"/>
<text class="t" transform="translate(531.5,335.92) scale(1,1.045)" font-size="21.6">22AGDNA(ThT-)</text>
<path d="M487,364.30 H515" stroke="#2bffff" stroke-width="2.8" stroke-dasharray="7.4 5"/>
<text class="t" transform="translate(531.5,371.40) scale(1,1.045)" font-size="21.6">19TTDNA(ThT-)</text>
<path d="M487,399.78 H515" stroke="#b844e8" stroke-width="2.8" stroke-dasharray="7.4 5"/>
<text class="t" transform="translate(531.5,406.88) scale(1,1.045)" font-size="21.6">non-G4DNA(ThT-)</text>
<path d="M487,435.26 H515" stroke="#2828ff" stroke-width="2.8" stroke-dasharray="7.4 5"/>
<text class="t" transform="translate(531.5,442.36) scale(1,1.045)" font-size="21.6">non-G4RNA(ThT-)</text>
<path d="M487,470.74 H515" stroke="#000" stroke-width="2.8" stroke-dasharray="7.4 5"/>
<text class="t" transform="translate(531.5,477.84) scale(1,1.045)" font-size="21.6">DEPC water(ThT-)</text>
</svg></body></html>
